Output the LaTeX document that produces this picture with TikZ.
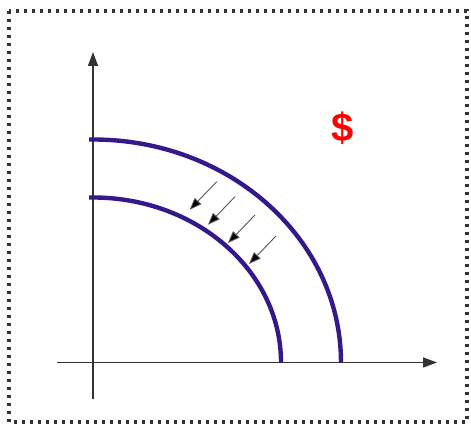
\documentclass[tikz,border=0pt]{standalone}
\usepackage{fontspec}
\newfontfamily\dollarfont{Liberation Sans}
\usepackage{xcolor}
\definecolor{curvecol}{HTML}{35198A}
\definecolor{axiscol}{HTML}{333333}
\definecolor{framecol}{HTML}{333333}
\definecolor{shiftcol}{HTML}{555555}
\usetikzlibrary{arrows.meta, positioning}

\begin{document}
\begin{tikzpicture}[
        x=1pt, y=1pt,
        frame_line/.style={draw=framecol, line width=3.4pt, dash pattern=on 3pt off 5pt},
        axis_line/.style={draw=axiscol, line width=1.3pt, -{Triangle[length=14pt, width=10pt]}},
        curve_line/.style={draw=curvecol, line width=4.4pt},
        shift_arrow/.style={draw=shiftcol, line width=0.9pt, -{Triangle[length=12pt, width=9pt, fill=black]}},
        money/.style={text=red, font=\dollarfont\bfseries\fontsize{40}{40}\selectfont, inner sep=0pt}
    ]
    \useasboundingbox (0,0) rectangle (471,425);

    % Frame
    \draw[frame_line] (9,414) rectangle (467,3);

    % Axes
    \coordinate (o) at (93,62.5);
    \coordinate (ybot) at (93,26);
    \coordinate (ytop) at (93,373);
    \coordinate (xleft) at (57,62.5);
    \coordinate (xright) at (437,62.5);
    \draw[axis_line] (ybot) -- (ytop);
    \draw[axis_line] (xleft) -- (xright);

    % Frontier curves
    \draw[curve_line] (89,285.5) -- (93,285.5) arc[start angle=90, end angle=0, x radius=248, y radius=223];
    \draw[curve_line] (89,227.5) -- (93,227.5) arc[start angle=90, end angle=0, x radius=188, y radius=165];

    % Shift arrows
    \foreach \x/\y in {216.7/243.3, 235/228.3, 255/210, 276/189}
        \draw[shift_arrow] (\x,\y) -- ++(-27,-28);

    % Label
    \node[money] (dollar) at (343,297) {\$};

\end{tikzpicture}
\end{document}
